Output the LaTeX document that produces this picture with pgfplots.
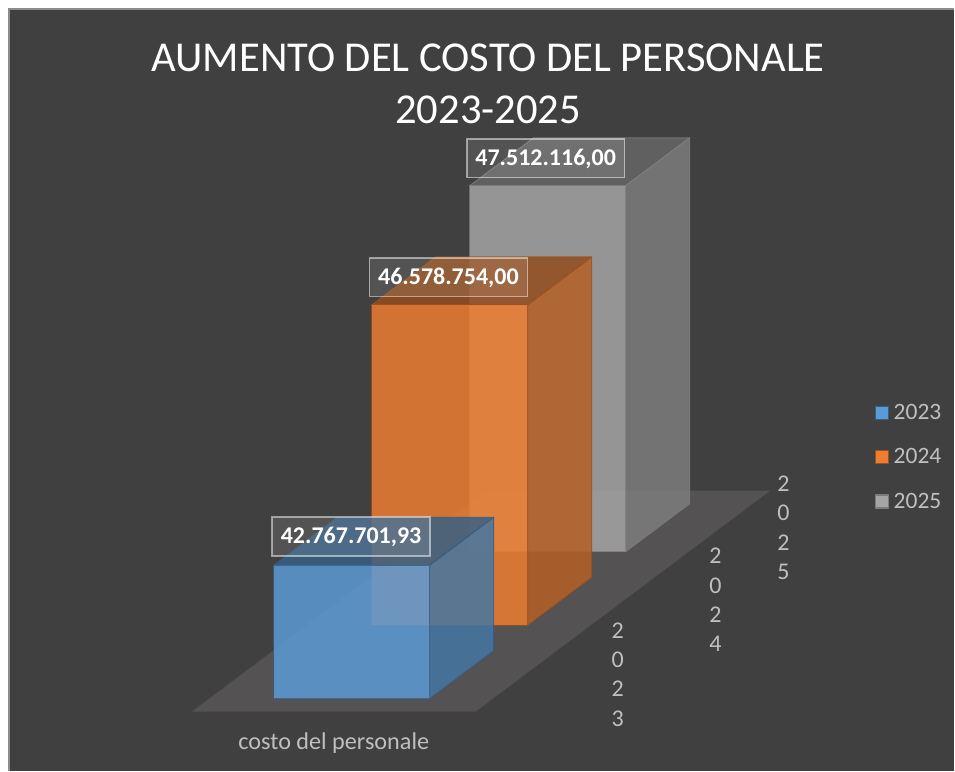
\documentclass[border=0pt]{standalone}
\usepackage{pgfplots}
\pgfplotsset{compat=1.18}
\usepackage{fontspec}
\setmainfont{Carlito}
\definecolor{bgd}{HTML}{404040}
\definecolor{floorc}{HTML}{545252}
\definecolor{txt}{HTML}{BFBFBF}
\definecolor{cblue}{HTML}{5B9BD5}
\definecolor{corange}{HTML}{ED7D31}
\definecolor{cgray}{HTML}{A5A5A5}
% one 3D column: colour, edge colour, y position, top value (millions)
\newcommand{\column}[4]{%
  \addplot3[forget plot,no marks,fill=#1!62!black,draw=#2,line width=1pt,fill opacity=.85,draw opacity=.8,line join=round]
    coordinates {(274,#3,#4) (430,#3,#4) (430,#3+.653,#4) (274,#3+.653,#4)} --cycle;
  \addplot3[forget plot,no marks,fill=#1!76!black,draw=#2,line width=1pt,fill opacity=.85,draw opacity=.8,line join=round]
    coordinates {(430,#3,40.05) (430,#3+.653,40.05) (430,#3+.653,#4) (430,#3,#4)} --cycle;
  \addplot3[no marks,fill=#1,draw=#2,line width=1pt,fill opacity=.85,draw opacity=.8,line join=round]
    coordinates {(274,#3,40.05) (430,#3,40.05) (430,#3,#4) (274,#3,#4)} --cycle;
}
\tikzset{vlab/.style={anchor=center,text=white,font=\fontsize{24}{24}\selectfont\bfseries,
   minimum width=158pt,minimum height=38.7pt,inner sep=0pt,text height=14pt,text depth=0pt,
   fill=white,fill opacity=.1,draw=white,draw opacity=.5,line width=1.6pt,text opacity=1},
  dlab/.style={anchor=center,text=txt,font=\fontsize{24}{29.3}\selectfont,align=center,inner sep=0pt}}
\begin{document}
\begin{tikzpicture}
\begin{axis}[
  x={(1pt,0pt)},y={(98pt,73.5pt)},z={(0pt,49.07pt)},
  xmin=274,xmax=430,ymin=0,ymax=2,zmin=40.05,zmax=47,
  hide axis,clip=false,
  reverse legend,
  legend cell align=left,
  legend image code/.code={\draw[#1,line width=1.6pt,fill opacity=1,draw opacity=1] (0pt,-6.5pt) rectangle (13pt,6.5pt);},
  legend style={at={(axis cs:875,0,{38.583+(771-400)/49.07})},anchor=north west,draw=none,fill=none,
     text=txt,font=\fontsize{23.5}{23.5}\selectfont,row sep=18.5pt,
     inner sep=0pt,nodes={inner sep=4.5pt}},
]
% page and chart area
\fill[white] (axis cs:0,0,{38.583}) rectangle (axis cs:955,0,{38.583+771/49.07});
\fill[bgd] (axis cs:9,0,{38.583}) rectangle (axis cs:955,0,{38.583+(771-9)/49.07});
\draw[color=black!45,line width=1.2pt] (axis cs:9,0,{38.583}) -- (axis cs:9,0,{38.583+(771-9)/49.07}) -- (axis cs:955,0,{38.583+(771-9)/49.07});
% floor
\addplot3[forget plot,no marks,fill=floorc,draw=none]
  coordinates {(209.3,-.177,40.05) (493.3,-.177,40.05) (493.3,2.83,40.05) (209.3,2.83,40.05)} --cycle;
% columns, back to front
\column{cgray}{cgray!75!black}{2}{47.512116}
\addlegendentry{2025}
\column{corange}{corange!65!black}{1}{46.578754}
\addlegendentry{2024}
\column{cblue}{cblue!60!black}{0}{42.76770193}
\addlegendentry{2023}
% value labels
\node[vlab] at (axis cs:351.3,0,{38.583+(771-536.8)/49.07}) {42.767.701,93};
\node[vlab] at (axis cs:448.7,0,{38.583+(771-277.3)/49.07}) {46.578.754,00};
\node[vlab] at (axis cs:546,0,{38.583+(771-158.3)/49.07}) {47.512.116,00};
% depth axis labels
\node[dlab] at (axis cs:618,0,{38.583+(771-675)/49.07}) {2\\0\\2\\3};
\node[dlab] at (axis cs:716,0,{38.583+(771-600.5)/49.07}) {2\\0\\2\\4};
\node[dlab] at (axis cs:784,0,{38.583+(771-528)/49.07}) {2\\0\\2\\5};
% category label
\node[anchor=center,text=txt,font=\fontsize{24.2}{24.2}\selectfont] at (axis cs:334,0,{38.583+(771-744)/49.07}) {costo del personale};
% title
\node[anchor=base,text=white,font=\fontsize{42.6}{42.6}\selectfont] at (axis cs:488.5,0,{38.583+(771-72)/49.07}) {AUMENTO DEL COSTO DEL PERSONALE};
\node[anchor=base,text=white,font=\fontsize{42.6}{42.6}\selectfont] at (axis cs:488.5,0,{38.583+(771-124)/49.07}) {2023-2025};
\end{axis}
\end{tikzpicture}
\end{document}
